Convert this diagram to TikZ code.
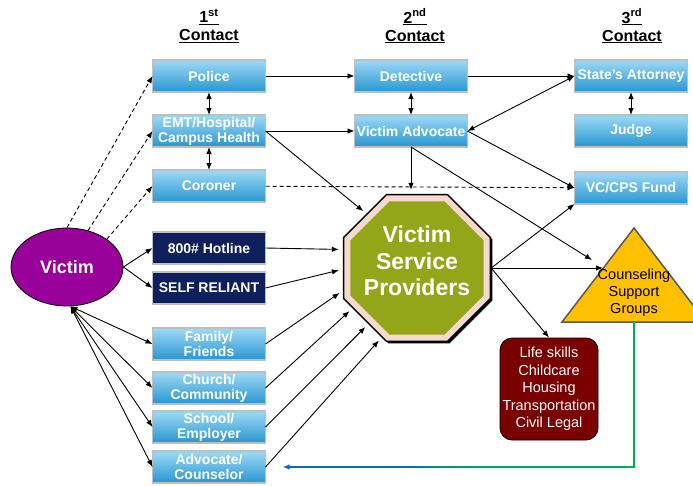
\documentclass[tikz,border=0pt]{standalone}
\usepackage{fontspec}
\setmainfont{Liberation Sans}
\usetikzlibrary{arrows.meta,positioning,shapes.geometric,shadows}
\definecolor{boxtop}{HTML}{9ED9F6}
\definecolor{boxbot}{HTML}{2896D0}
\definecolor{boxline}{HTML}{BFBFBF}
\definecolor{hotnavy}{HTML}{0E1F5E}
\definecolor{victimpurple}{HTML}{990099}
\definecolor{vspgreen}{HTML}{93A61A}
\definecolor{vsppink}{HTML}{F8D9D0}
\definecolor{lifered}{HTML}{7A0000}
\definecolor{cgsgold}{HTML}{FFC000}
\definecolor{cgsline}{HTML}{595959}
\definecolor{fbblue}{HTML}{0A6EB4}
\definecolor{fbgreen}{HTML}{00B050}
\tikzset{
  >={Latex[length=7pt,width=5.5pt]},
  boxbase/.style={draw=boxline,line width=1.2pt,outer sep=0pt,text=white,align=center,inner sep=1pt,font=\bfseries\fontsize{14}{15}\selectfont,minimum width=113pt,minimum height=32pt},
  box/.style={boxbase,top color=boxtop,bottom color=boxbot},
  navybox/.style={boxbase,fill=hotnavy},
  head/.style={font=\bfseries\fontsize{16}{18}\selectfont,align=center},
  victim/.style={ellipse,draw=black,line width=0.8pt,fill=victimpurple,text=white,font=\bfseries\fontsize{18}{20}\selectfont,minimum width=112pt,minimum height=78pt,inner sep=0pt},
  octa/.style={regular polygon,regular polygon sides=8,minimum size=159pt,inner sep=0pt,fill=vsppink,draw=black,line width=1.5pt,drop shadow={shadow xshift=2pt,shadow yshift=-2pt,fill=black,opacity=1}},
  octacore/.style={regular polygon,regular polygon sides=8,minimum size=144pt,inner sep=0pt,fill=vspgreen},
  octatext/.style={text=white,align=center,font=\bfseries\fontsize{23}{26.5}\selectfont},
  life/.style={rounded corners=12pt,draw=black,line width=0.8pt,fill=lifered,text=white,align=center,inner sep=1pt,font=\fontsize{14.5}{17.5}\selectfont,minimum width=98pt,minimum height=102pt},
  cgsshape/.style={fill=cgsgold,draw=cgsline,line width=1.5pt},
  cgstext/.style={align=center,font=\fontsize{14.5}{17}\selectfont},
  ar/.style={->,line width=0.9pt},
  dar/.style={<->,line width=0.9pt},
  dashar/.style={ar,dash pattern=on 4pt off 3pt},
  toocta/.style={ar,shorten >=4pt},
  fbk/.style={->,draw=fbblue,line width=2pt,shorten >=17pt},
}
\begin{document}
\begin{tikzpicture}[x=1pt,y=-1pt]
  \useasboundingbox (0,0) rectangle (693,485);
  % column headings
  \node[head] (h1) at (209,26) {\underline{1\textsuperscript{st}}\\\underline{Contact}};
  \node[head] (h2) at (415,26) {\underline{2\textsuperscript{nd}}\\\underline{Contact}};
  \node[head] (h3) at (632,26) {\underline{3\textsuperscript{rd}}\\\underline{Contact}};

  % first contact
  \node[box] (police) at (209,76) {Police};
  \node[box,below=23pt of police] (emt) {EMT/Hospital/\\Campus Health};
  \node[box,below=23pt of emt] (coroner) {Coroner};
  \node[navybox,below=30pt of coroner] (hotline) {800\# Hotline};
  \node[navybox,below=8pt of hotline] (selfrel) {SELF RELIANT};
  \node[box,below=24pt of selfrel] (family) {Family/\\Friends};
  \node[box,below=12pt of family] (church) {Church/\\Community};
  \node[box,below=7pt of church] (school) {School/\\Employer};
  \node[box,below=8pt of school] (advc) {Advocate/\\Counselor};

  % second and third contact
  \node[box,right=89pt of police] (det) {Detective};
  \node[box,right=89pt of emt] (va) {Victim Advocate};
  \node[box,right=107pt of det] (sa) {State’s Attorney};
  \node[box,below=23pt of sa] (judge) {Judge};
  \node[box,below=25pt of judge] (vccps) {VC/CPS Fund};

  \node[victim] (victim) at (67,267) {Victim};

  % stop sign
  \node[octa] (vsp) at (417,268) {};
  \node[octacore] (vspcore) at (vsp.center) {};
  \node[octatext] (vsplabel) at ([yshift=7pt]vsp.center) {Victim\\Service\\Providers};

  \node[life] (life) at (549,389) {Life skills\\Childcare\\Housing\\Transportation\\Civil Legal};

  % support groups triangle
  \filldraw[cgsshape] (634,228) coordinate (cgstop) -- (706,322) -- (562,322) -- cycle;
  \coordinate (cgsbase) at (634,322);
  \coordinate (cgsin) at (603,268);
  \coordinate (cgsedge) at (592,260);
  \node[cgstext] (cgs) at (634,293) {Counseling\\Support\\Groups};

  % victim links
  \draw[dashar] (victim.north) -- (police.west);
  \draw[dashar] (victim.60) -- (emt.west);
  \draw[dashar] (victim.35) -- (coroner.west);
  \draw[ar] (victim.east) -- (hotline.west);
  \draw[ar] (victim.east) -- (selfrel.west);
  \foreach \n in {family,church,school,advc}
    \draw[dar] (victim.-85) -- (\n.west);

  \draw[dar] (police) -- (emt);
  \draw[dar] (emt) -- (coroner);
  \draw[dar] (det) -- (va);
  \draw[dar] (sa) -- (judge);

  \draw[ar] (police) -- (det);
  \draw[ar] (emt) -- (va);
  \draw[ar] (det) -- (sa);
  \draw[dar] (sa.west) -- (va.east);
  \draw[ar] (va.east) -- (vccps.west);
  \draw[dashar] (coroner) -- (vccps);
  \draw[toocta] (va.south) -- (va.south |- vsp.north);
  \draw[ar] (va.south) -- (cgsedge);

  % into the providers
  \draw[toocta] (emt.east) -- (vsp.133);
  \draw[toocta] (hotline.east) -- (vsp.166);
  \draw[toocta] (selfrel.east) -- (vsp.181);
  \draw[toocta] (family.east) -- (vsp.197);
  \draw[toocta] (church.east) -- (vsp.212);
  \draw[toocta] (school.east) -- (vsp.229);
  \draw[toocta] (advc.east) -- (vsp.243);

  % out of the providers
  \draw[ar] (vsp.east) -- (vccps.south west);
  \draw[ar] (vsp.east) -- (cgsin);
  \draw[ar] (vsp.east) -- (life.north);

  % return line back to the advocate, green fading to blue
  \coordinate (fbcorner) at (cgsbase |- advc.east);
  \draw[fbk] (cgsbase) -- (fbcorner) -- (advc.east);
  \draw[line width=2pt,fbgreen] (cgsbase) -- (fbcorner) -- ++(-147,0);
  \foreach \i in {0,...,16}{
    \pgfmathtruncatemacro\mix{100-\i*6}
    \draw[line width=2pt,fbblue!\mix!fbgreen] ([xshift=\i*5pt-232pt]fbcorner) -- ++(5.5,0);
  }
\end{tikzpicture}
\end{document}
